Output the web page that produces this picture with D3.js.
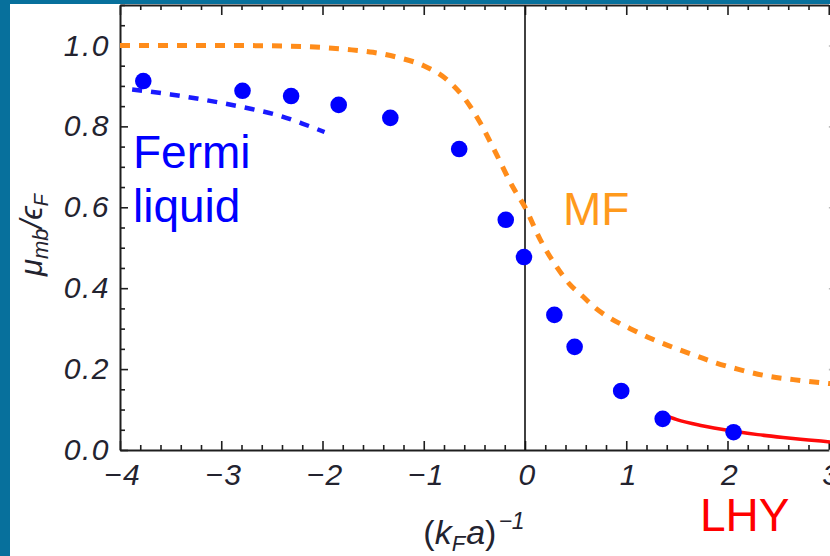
<!DOCTYPE html>
<html>
<head>
<meta charset="utf-8">
<script src="https://cdn.jsdelivr.net/npm/d3@7"></script>
<style>
  html, body { margin: 0; padding: 0; background: #fff; }
  svg { display: block; }
</style>
</head>
<body>
<svg id="chart" width="830" height="556"></svg>
<script>
// ---- data ----
const xMajorTicks = [-4, -3, -2, -1, 0, 1, 2, 3];
const yMajorTicks = [0.0, 0.2, 0.4, 0.6, 0.8, 1.0];

// measured points (blue dots)
const dotX = [-3.77, -2.79, -2.31, -1.84, -1.33, -0.65, -0.19, -0.01, 0.29, 0.49, 0.95, 1.36, 2.06];
const dotY = [0.912, 0.888, 0.875, 0.853, 0.821, 0.744, 0.569, 0.477, 0.334, 0.255, 0.146, 0.077, 0.044];

// mean-field curve (orange dashed)
const mfX = [-4.0, -3.5, -3.0, -2.5, -2.0, -1.75, -1.5, -1.25, -1.0, -0.77, -0.6, -0.44, -0.3, -0.12, 0.0, 0.15, 0.32, 0.44, 0.57, 0.7, 0.84, 1.04, 1.25, 1.5, 1.7, 1.89, 2.1, 2.39, 2.65, 2.94, 3.1];
const mfY = [1.0, 1.0, 1.0, 0.999, 0.995, 0.99, 0.983, 0.97, 0.95, 0.915, 0.87, 0.808, 0.74, 0.65, 0.60, 0.52, 0.45, 0.41, 0.38, 0.35, 0.326, 0.30, 0.275, 0.25, 0.232, 0.215, 0.2, 0.183, 0.174, 0.166, 0.162];

// Fermi-liquid curve (blue dashed)
const flX = [-3.88, -3.5, -3.0, -2.7, -2.42, -2.2, -1.98];
const flY = [0.891, 0.879, 0.858, 0.843, 0.826, 0.807, 0.786];

// LHY curve (red solid)
const lhyX = [1.33, 1.5, 1.75, 2.05, 2.3, 2.55, 2.8, 3.05];
const lhyY = [0.091, 0.075, 0.06, 0.047, 0.038, 0.031, 0.025, 0.019];

// ---- layout ----
const svg = d3.select("#chart");
const x = d3.scaleLinear().domain([-4, 3]).range([120, 828.75]);
const y = d3.scaleLinear().domain([0, 1.1]).range([450, 5]);
const xRight = 3.08;

const frameCol = "#1e1e1e";
const labelCol = "#23232f";

svg.append("rect").attr("x", 0).attr("y", 0).attr("width", 830).attr("height", 556).attr("fill", "#fff");

// minor ticks
const xMinor = d3.range(-40, 31, 2).map(d => d / 10).filter(v => !xMajorTicks.some(m => Math.abs(m - v) < 1e-6));
const yMinor = d3.range(0, 23, 1).map(d => d / 20).filter(v => !yMajorTicks.some(m => Math.abs(m - v) < 1e-6) && v <= 1.1);

const fontTick = "italic 30px 'Liberation Sans', Arial, sans-serif";

function styleAxis(g) {
  g.selectAll("path.domain").attr("stroke", frameCol).attr("stroke-width", 2);
  g.selectAll(".tick line").attr("stroke", frameCol).attr("stroke-width", 1.6);
  g.selectAll(".tick text").attr("fill", labelCol).style("font", fontTick).style("letter-spacing", "1.5px");
}
function styleMinor(g) {
  g.select("path.domain").remove();
  g.selectAll(".tick line").attr("stroke", frameCol).attr("stroke-width", 1.6);
}

// bottom axis
const gB = svg.append("g").attr("transform", `translate(0,${y(0)})`)
  .call(d3.axisBottom(x).tickValues(xMajorTicks).tickSize(-9).tickSizeOuter(0).tickPadding(14).tickFormat(d3.format("d")));
styleAxis(gB);
gB.selectAll(".tick text").attr("dy", "0.71em").attr("dx", 2);
svg.append("g").attr("transform", `translate(0,${y(0)})`)
  .call(d3.axisBottom(x).tickValues(xMinor).tickSize(-5).tickSizeOuter(0).tickFormat(""))
  .call(styleMinor);

// top frame
const gT = svg.append("g").attr("transform", `translate(0,${y(1.1)})`)
  .call(d3.axisTop(x).tickValues(xMajorTicks).tickSize(-10).tickSizeOuter(0).tickFormat(""));
styleAxis(gT);
svg.append("g").attr("transform", `translate(0,${y(1.1)})`)
  .call(d3.axisTop(x).tickValues(xMinor).tickSize(-5).tickSizeOuter(0).tickFormat(""))
  .call(styleMinor);

// left axis
const gL = svg.append("g").attr("transform", `translate(${x(-4)},0)`)
  .call(d3.axisLeft(y).tickValues(yMajorTicks).tickSize(-8).tickSizeOuter(0).tickPadding(10).tickFormat(d3.format(".1f")));
styleAxis(gL);
svg.append("g").attr("transform", `translate(${x(-4)},0)`)
  .call(d3.axisLeft(y).tickValues(yMinor).tickSize(-5).tickSizeOuter(0).tickFormat(""))
  .call(styleMinor);

// right frame (mostly off-canvas)
const gR = svg.append("g").attr("transform", `translate(${x(xRight)},0)`)
  .call(d3.axisRight(y).tickValues(yMajorTicks).tickSize(-8).tickSizeOuter(0).tickFormat(""));
styleAxis(gR);
gR.selectAll(".tick line").attr("stroke", "#bbb");

// vertical line at x=0
svg.append("line").attr("x1", x(0)).attr("x2", x(0)).attr("y1", y(1.1)).attr("y2", y(0))
  .attr("stroke", "#111").attr("stroke-width", 1.6);

const line = d3.line().x(d => x(d[0])).y(d => y(d[1])).curve(d3.curveMonotoneX);

// MF curve
svg.append("path").datum(d3.zip(mfX, mfY)).attr("d", line)
  .attr("fill", "none").attr("stroke", "#ff8c1a").attr("stroke-width", 5)
  .attr("stroke-dasharray", "10,9");

// Fermi liquid
svg.append("path").datum(d3.zip(flX, flY)).attr("d", line)
  .attr("fill", "none").attr("stroke", "#1a1aff").attr("stroke-width", 4.5)
  .attr("stroke-dasharray", "10,9");

// LHY
svg.append("path").datum(d3.zip(lhyX, lhyY)).attr("d", line)
  .attr("fill", "none").attr("stroke", "#ff0a0a").attr("stroke-width", 3.5);

// dots
svg.append("g").selectAll("circle").data(d3.zip(dotX, dotY)).join("circle")
  .attr("cx", d => x(d[0])).attr("cy", d => y(d[1])).attr("r", 8.3).attr("fill", "#0000ff");

// annotations
const labFont = "'Liberation Sans', Arial, sans-serif";
svg.append("text").attr("x", 133).attr("y", 168).attr("fill", "#0000ff")
  .style("font-family", labFont).style("font-size", "46px").text("Fermi");
svg.append("text").attr("x", 133).attr("y", 222).attr("fill", "#0000ff")
  .style("font-family", labFont).style("font-size", "46px").text("liquid");
svg.append("text").attr("x", 563).attr("y", 225).attr("fill", "#ff9a1c")
  .style("font-family", labFont).style("font-size", "46px").text("MF");
svg.append("text").attr("x", 700).attr("y", 531).attr("fill", "#ff0000")
  .style("font-family", labFont).style("font-size", "46px").text("LHY");

// x axis label
const xl = svg.append("text").attr("x", 474).attr("y", 544).attr("text-anchor", "middle")
  .attr("fill", labelCol).style("font-family", labFont).style("font-size", "34px");
xl.append("tspan").text("(");
xl.append("tspan").style("font-style", "italic").text("k");
xl.append("tspan").style("font-style", "italic").style("font-size", "22px").attr("dy", 7).text("F");
xl.append("tspan").style("font-style", "italic").attr("dy", -7).attr("dx", 1).text("a");
xl.append("tspan").text(")");
xl.append("tspan").style("font-style", "italic").style("font-size", "23px").attr("dy", -15).attr("dx", 2).text("−1");

// y axis label
const yl = svg.append("text").attr("transform", "translate(42,235) rotate(-90)").attr("text-anchor", "middle")
  .attr("fill", labelCol).style("font-family", labFont).style("font-size", "31px").style("font-style", "italic");
yl.append("tspan").text("μ");
yl.append("tspan").style("font-size", "22px").attr("dy", 6).text("mb");
yl.append("tspan").attr("dy", -6).text("/");
yl.append("tspan").text("ϵ");
yl.append("tspan").style("font-size", "20px").attr("dy", 6).text("F");

// slide border strips
svg.append("rect").attr("x", 0).attr("y", 0).attr("width", 830).attr("height", 4).attr("fill", "#07709c");
svg.append("rect").attr("x", 0).attr("y", 0).attr("width", 10).attr("height", 556).attr("fill", "#07709c");
</script>
</body>
</html>
